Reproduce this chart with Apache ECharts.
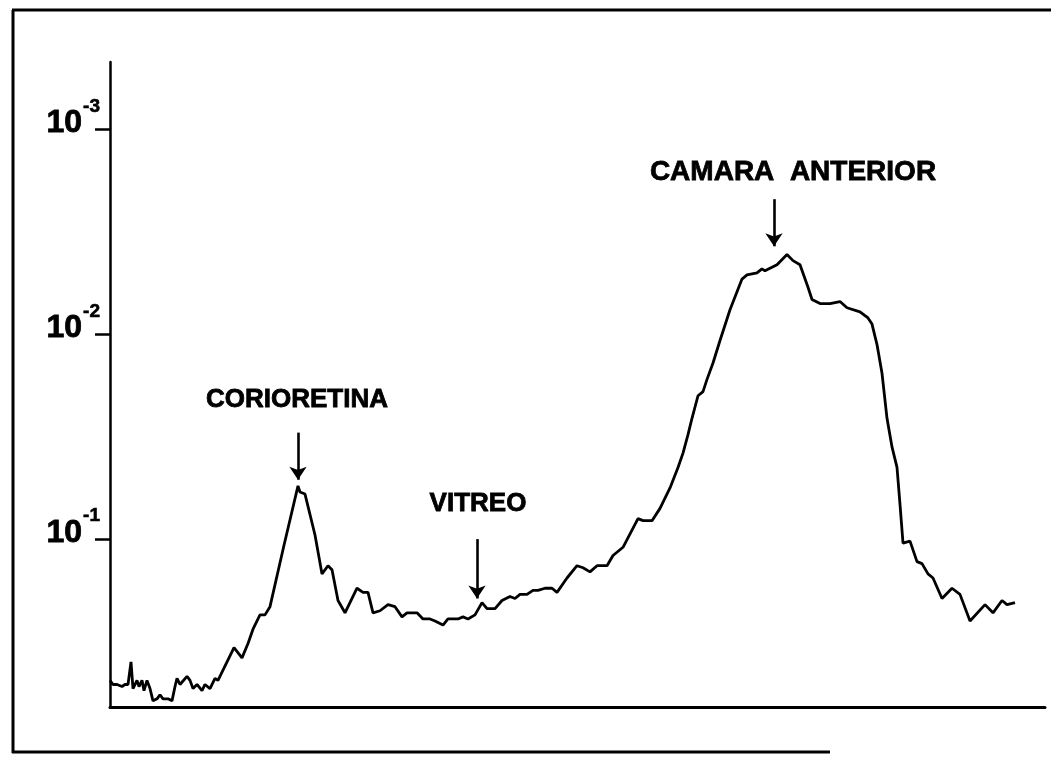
<!DOCTYPE html>
<html>
<head>
<meta charset="utf-8">
<style>
  html, body { margin: 0; padding: 0; background: #ffffff; }
  #chart { width: 1051px; height: 758px; }
</style>
<script src="https://cdn.jsdelivr.net/npm/echarts@6/dist/echarts.min.js"></script>
</head>
<body>
<div id="chart"></div>
<script>
// Position along the scan (arbitrary units)
const position = [0,3,7,12,15,18,21,23,27,29,32,34,37,40,43,47,50,53,58,62,
  65,67,70,77,80,83,87,92,95,100,105,108,113,124,132,138,143,148,150,155,
  160,174,188,190,195,205,212,218,222,228,235,247,253,258,263,270,278,285,292,297,
  307,313,320,325,333,338,343,348,353,358,365,372,377,385,392,400,405,410,417,423,
  428,435,442,447,457,467,473,480,487,497,503,513,528,533,542,550,560,568,573,578,
  582,588,593,597,603,610,620,632,637,647,652,655,667,677,683,690,698,702,710,720,
  730,737,750,758,762,767,772,777,782,787,790,793,800,807,812,818,823,832,842,850,
  860,875,883,892,897,905];
// Concentration as negative decimal exponent (value v means 10^-v)
const concentrationExp = [0.31,0.29,0.29,0.28,0.29,0.29,0.40,0.27,0.31,0.28,0.31,0.26,0.31,0.27,0.21,0.22,0.24,0.22,0.22,0.21,
  0.28,0.32,0.29,0.33,0.31,0.27,0.29,0.26,0.29,0.27,0.32,0.31,0.36,0.47,0.42,0.49,0.56,0.61,0.63,0.63,
  0.67,0.97,1.26,1.23,1.22,1.02,0.83,0.87,0.85,0.70,0.64,0.76,0.74,0.74,0.64,0.65,0.68,0.67,0.62,0.64,
  0.64,0.61,0.61,0.60,0.58,0.61,0.61,0.61,0.62,0.61,0.63,0.69,0.66,0.66,0.70,0.72,0.71,0.73,0.73,0.75,
  0.75,0.76,0.76,0.74,0.81,0.87,0.86,0.84,0.87,0.87,0.92,0.96,1.10,1.09,1.09,1.15,1.25,1.35,1.42,1.51,
  1.59,1.70,1.72,1.78,1.86,1.97,2.12,2.27,2.29,2.30,2.32,2.31,2.34,2.39,2.36,2.34,2.23,2.17,2.15,2.15,
  2.16,2.13,2.11,2.08,2.05,1.95,1.81,1.59,1.45,1.35,1.17,0.98,0.99,0.89,0.88,0.83,0.81,0.71,0.76,0.73,
  0.60,0.68,0.64,0.70,0.68,0.69];
// Y tick exponents
const yTickExp = [1, 2, 3];
// Annotations
const annotLabels = ['CORIORETINA', 'VITREO', 'CAMARA  ANTERIOR'];
const annotTextX = [187, 368, 683];
const annotTextY = [1.68, 1.17, 2.79];
const annotArrowX = [188, 367, 664];
const annotArrowTop = [1.52, 1.00, 2.66];
const annotArrowTip = [1.29, 0.71, 2.43];
const annotFontSize = [26, 26, 28];

const seriesData = position.map((x, i) => [x, concentrationExp[i]]);

const FONT = '"Liberation Sans", Arial, Helvetica, sans-serif';

const chart = echarts.init(document.getElementById('chart'), null, { renderer: 'canvas' });
chart.setOption({
  backgroundColor: '#ffffff',
  animation: false,
  grid: { left: 110, right: 6, top: 62, bottom: 51 },
  xAxis: {
    type: 'value', min: 0, max: 935,
    axisLine: { show: true, lineStyle: { color: '#000', width: 3 } },
    axisTick: { show: false }, axisLabel: { show: false }, splitLine: { show: false }
  },
  yAxis: {
    type: 'value', min: 0.18, max: 3.33,
    axisLine: { show: true, lineStyle: { color: '#000', width: 2.5 } },
    axisTick: { show: true, customValues: yTickExp, length: 15, inside: false, lineStyle: { color: '#000', width: 2.5 } },
    axisLabel: {
      show: true, customValues: yTickExp, margin: 10,
      formatter: v => '{b|10}{s|-' + v + '}',
      rich: {
        b: { fontFamily: FONT, fontWeight: 'bold', fontSize: 32, color: '#000', lineHeight: 36,
             verticalAlign: 'middle', padding: [0, 0, 12, 0], textBorderColor: '#000', textBorderWidth: 0.8 },
        s: { fontFamily: FONT, fontWeight: 'bold', fontSize: 19, color: '#000', lineHeight: 20,
             verticalAlign: 'middle', padding: [0, 0, 46, 1], textBorderColor: '#000', textBorderWidth: 0.6 }
      }
    },
    splitLine: { show: false }
  },
  series: [{
    type: 'line',
    data: seriesData,
    showSymbol: false,
    symbol: 'none',
    lineStyle: { color: '#000', width: 2.8 },
    markLine: {
      silent: true,
      symbol: ['none', 'arrow'],
      symbolSize: 13,
      lineStyle: { color: '#000', width: 2.6, type: 'solid' },
      label: { show: false },
      data: annotLabels.map((n, i) => [
        { coord: [annotArrowX[i], annotArrowTop[i]] },
        { coord: [annotArrowX[i], annotArrowTip[i]] }
      ])
    },
    markPoint: {
      silent: true,
      symbol: 'circle', symbolSize: 0,
      data: annotLabels.map((n, i) => ({
        name: n,
        coord: [annotTextX[i], annotTextY[i]],
        label: {
          show: true, position: 'inside', formatter: n,
          fontFamily: FONT, fontWeight: 'bold', fontSize: annotFontSize[i], color: '#000',
          textBorderColor: '#000', textBorderWidth: 0.8
        }
      }))
    }
  }],
  graphic: [
    { type: 'line', shape: { x1: 13, y1: 10, x2: 13, y2: 753 }, style: { stroke: '#000', lineWidth: 3 } },
    { type: 'line', shape: { x1: 12, y1: 10, x2: 1051, y2: 10 }, style: { stroke: '#000', lineWidth: 3 } },
    { type: 'line', shape: { x1: 12, y1: 752, x2: 830, y2: 752 }, style: { stroke: '#000', lineWidth: 3 } }
  ]
});
</script>
</body>
</html>
